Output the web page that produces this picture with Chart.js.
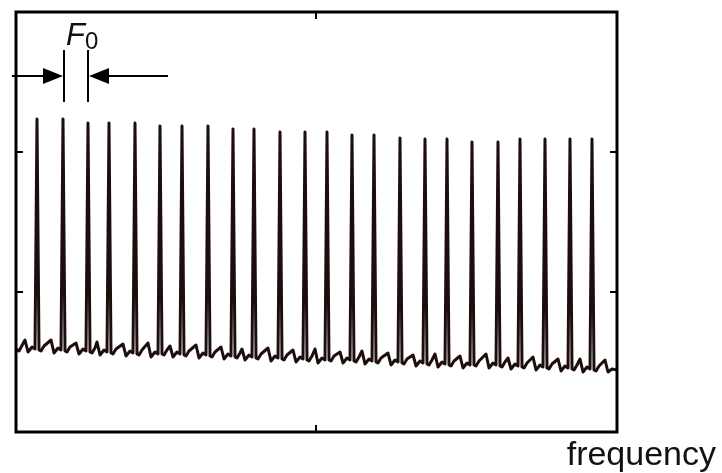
<!DOCTYPE html>
<html>
<head>
<meta charset="utf-8">
<script src="https://cdn.jsdelivr.net/npm/chart.js@4.4.1/dist/chart.umd.min.js"></script>
<style>
  html, body { margin: 0; padding: 0; background: #fff; }
</style>
</head>
<body>
<canvas id="spectrum" width="722" height="473"></canvas>
<script>
// 周波数（横軸）
const freq = [
    0, 3, 9, 12, 16, 19, 21,
    23, 25, 28, 35, 38, 42, 45, 47,
    49, 51, 54, 60, 63, 67, 70, 72,
    74, 76, 79, 81, 84, 88, 91, 93,
    95, 97, 100, 107, 110, 114, 117, 119,
    121, 123, 126, 132, 135, 139, 142, 144,
    146, 148, 151, 154, 157, 161, 164, 166,
    168, 170, 173, 180, 183, 187, 190, 192,
    194, 196, 199, 205, 208, 212, 215, 217,
    219, 221, 224, 226, 229, 233, 236, 238,
    240, 242, 245, 252, 255, 259, 262, 264,
    266, 268, 271, 277, 280, 284, 287, 289,
    291, 293, 296, 299, 302, 306, 309, 311,
    313, 315, 318, 324, 327, 331, 334, 336,
    338, 340, 343, 346, 349, 353, 356, 358,
    360, 362, 365, 372, 375, 379, 382, 384,
    386, 388, 391, 397, 400, 404, 407, 409,
    411, 413, 416, 419, 422, 426, 429, 431,
    433, 435, 438, 444, 447, 451, 454, 456,
    458, 460, 463, 470, 473, 477, 480, 482,
    484, 486, 489, 492, 495, 499, 502, 504,
    506, 508, 511, 517, 520, 524, 527, 529,
    531, 533, 536, 542, 545, 549, 552, 554,
    556, 558, 561, 564, 567, 571, 574, 576,
    578, 580, 583, 589, 592, 596, 601
];
// 振幅（縦軸）
const level = [
    83, 81, 92, 80, 85, 83, 313,
    82, 81, 86, 92, 79, 84, 82, 313,
    81, 80, 85, 89, 78, 83, 81, 309,
    80, 79, 84, 90, 77, 82, 80, 309,
    79, 78, 83, 88, 76, 81, 79, 309,
    78, 77, 82, 89, 75, 80, 78, 306,
    78, 77, 82, 86, 75, 80, 78, 306,
    77, 76, 81, 87, 74, 79, 77, 306,
    76, 75, 80, 85, 73, 78, 76, 303,
    75, 74, 79, 83, 72, 77, 75, 303,
    74, 73, 78, 84, 71, 76, 74, 300,
    73, 72, 77, 82, 70, 75, 73, 300,
    72, 71, 76, 83, 69, 74, 72, 300,
    72, 71, 76, 80, 69, 74, 72, 297,
    71, 70, 75, 81, 68, 73, 71, 297,
    70, 69, 74, 79, 67, 72, 70, 294,
    69, 68, 73, 77, 66, 71, 69, 293,
    68, 67, 72, 78, 65, 70, 68, 293,
    67, 66, 71, 76, 64, 69, 67, 290,
    67, 66, 71, 78, 64, 69, 67, 290,
    66, 65, 70, 74, 63, 68, 66, 293,
    65, 64, 69, 75, 62, 67, 65, 293,
    64, 63, 68, 73, 61, 66, 64, 293,
    63, 62, 67, 73, 60, 65, 63, 293,
    62, 61, 66, 72, 60, 63, 62
];
// 目盛り
const xTicks = [300];
const yTicks = [140, 280];
const xRange = [0, 601];
const yRange = [0, 420];

// F0 の注釈（隣り合う2本のピーク）
const f0Marks = [48, 72];
const f0Level = 356;
const f0Bar = [330, 382];
const f0ArrowFrom = [-4, 152];

const points = freq.map((f, i) => ({ x: f, y: level[i] }));

// 枠・内向き目盛り・注釈を描くプラグイン
const framePlugin = {
    id: 'frame',
    afterDatasetsDraw(chart) {
        const { ctx, chartArea: a, scales } = chart;
        const xs = scales.x, ys = scales.y;
        ctx.save();
        ctx.strokeStyle = '#000';
        ctx.lineWidth = 3;
        ctx.strokeRect(a.left, a.top, a.right - a.left, a.bottom - a.top);

        ctx.lineWidth = 2;
        ctx.beginPath();
        xTicks.forEach(v => {
            const px = xs.getPixelForValue(v);
            ctx.moveTo(px, a.bottom); ctx.lineTo(px, a.bottom - 7);
            ctx.moveTo(px, a.top); ctx.lineTo(px, a.top + 7);
        });
        yTicks.forEach(v => {
            const py = ys.getPixelForValue(v);
            ctx.moveTo(a.left, py); ctx.lineTo(a.left + 7, py);
            ctx.moveTo(a.right, py); ctx.lineTo(a.right - 7, py);
        });
        ctx.stroke();

        // F0 の矢印
        const y0 = ys.getPixelForValue(f0Level);
        const xa = xs.getPixelForValue(f0Marks[0]);
        const xb = xs.getPixelForValue(f0Marks[1]);
        ctx.lineWidth = 2;
        ctx.beginPath();
        [xa, xb].forEach(px => {
            ctx.moveTo(px, ys.getPixelForValue(f0Bar[1]));
            ctx.lineTo(px, ys.getPixelForValue(f0Bar[0]));
        });
        ctx.moveTo(xs.getPixelForValue(f0ArrowFrom[0]), y0);
        ctx.lineTo(xa - 16, y0);
        ctx.moveTo(xs.getPixelForValue(f0ArrowFrom[1]), y0);
        ctx.lineTo(xb + 16, y0);
        ctx.stroke();
        ctx.fillStyle = '#000';
        ctx.beginPath();
        ctx.moveTo(xa - 1, y0); ctx.lineTo(xa - 21, y0 - 8); ctx.lineTo(xa - 21, y0 + 8);
        ctx.closePath();
        ctx.moveTo(xb + 1, y0); ctx.lineTo(xb + 21, y0 - 8); ctx.lineTo(xb + 21, y0 + 8);
        ctx.closePath();
        ctx.fill();

        // テキスト
        ctx.fillStyle = '#111';
        ctx.textBaseline = 'alphabetic';
        ctx.font = 'italic 31px "Liberation Sans", Arial, sans-serif';
        ctx.fillText('F', xa + 2, 45);
        ctx.font = '24px "Liberation Sans", Arial, sans-serif';
        ctx.fillText('0', xa + 21, 49);
        ctx.font = '34px "Liberation Sans", Arial, sans-serif';
        ctx.textAlign = 'right';
        ctx.fillText('frequency', 716, 465);
        ctx.restore();
    }
};

let chart;
function renderChart() {
    const ctx = document.getElementById('spectrum').getContext('2d');
    chart = new Chart(ctx, {
        type: 'scatter',
        data: {
            datasets: [{
                label: 'spectrum',
                data: points,
                showLine: true,
                borderColor: '#1e0d0d',
                borderWidth: 3,
                borderJoinStyle: 'round',
                pointRadius: 0,
                tension: 0
            }]
        },
        options: {
            responsive: false,
            animation: false,
            devicePixelRatio: 1,
            layout: {
                padding: { left: 16, top: 12, right: 105, bottom: 41 }
            },
            scales: {
                x: { type: 'linear', min: xRange[0], max: xRange[1], display: false },
                y: { type: 'linear', min: yRange[0], max: yRange[1], display: false }
            },
            plugins: {
                legend: { display: false },
                tooltip: { enabled: false }
            }
        },
        plugins: [framePlugin]
    });
}

renderChart();
</script>
</body>
</html>
